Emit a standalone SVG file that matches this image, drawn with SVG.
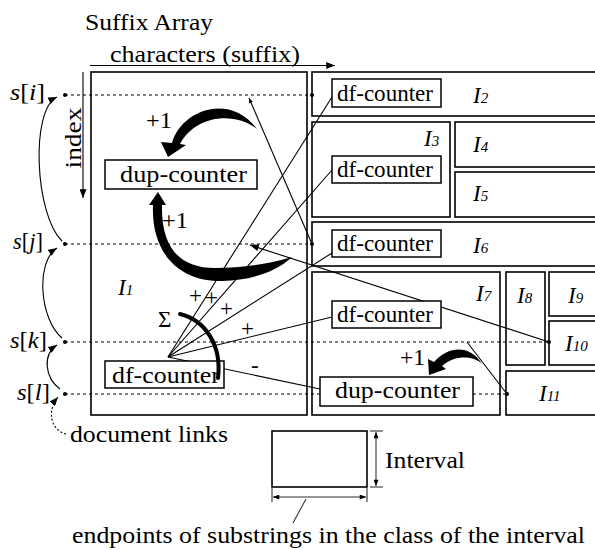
<svg xmlns="http://www.w3.org/2000/svg" width="595" height="550" viewBox="0 0 595 550" font-family="'Liberation Serif', 'Times New Roman', serif">
<defs>
<style>
.t{font-family:'Liberation Serif','Times New Roman',serif;font-size:23px;fill:#000;stroke:none}
.i{font-style:italic}
.sub{font-size:15px}
.box{fill:none;stroke:#000;stroke-width:1.6}
.cnt{fill:#fff;stroke:#000;stroke-width:1.5}
.dot{stroke:#000;stroke-width:1.2;stroke-dasharray:3 3;fill:none}
.ln{stroke:#000;stroke-width:1.1;fill:none}
.thick{fill:#000;stroke:none}
.lg{stroke:#333;stroke-width:1.1;fill:none}
</style>
<marker id="ah" viewBox="0 0 10 8" refX="10" refY="4" markerWidth="9" markerHeight="7" orient="auto" markerUnits="userSpaceOnUse"><path d="M0,0L10,4L0,8z"/></marker>
<marker id="as" viewBox="0 0 10 8" refX="10" refY="4" markerWidth="7" markerHeight="5" orient="auto-start-reverse" markerUnits="userSpaceOnUse"><path d="M0,0L10,4L0,8z"/></marker>
<marker id="at" viewBox="0 0 10 8" refX="10" refY="4" markerWidth="7" markerHeight="4" orient="auto" markerUnits="userSpaceOnUse"><path d="M0,0L10,4L0,8z"/></marker>
</defs>

<g id="titles">
<text class="t" x="85" y="30" textLength="128" lengthAdjust="spacingAndGlyphs">Suffix Array</text>
<text class="t" x="110" y="62" textLength="190" lengthAdjust="spacingAndGlyphs">characters (suffix)</text>
<text class="t" transform="translate(81,138) rotate(-90)" text-anchor="middle" textLength="61" lengthAdjust="spacingAndGlyphs">index</text>
</g>

<g id="suffix-array">
<rect class="box" x="91" y="72" width="216" height="343"/>
<text class="t i" x="118" y="295">I<tspan class="sub">1</tspan></text>
</g>

<g id="I2"><rect class="box" x="312" y="72" width="300" height="44"/><text class="t i" x="473" y="103">I<tspan class="sub">2</tspan></text></g>
<g id="I3"><rect class="box" x="312" y="122" width="138" height="95"/><text class="t i" x="424" y="146">I<tspan class="sub">3</tspan></text></g>
<g id="I4"><rect class="box" x="455" y="122" width="160" height="45"/><text class="t i" x="473" y="152">I<tspan class="sub">4</tspan></text></g>
<g id="I5"><rect class="box" x="455" y="172" width="160" height="45"/><text class="t i" x="473" y="201">I<tspan class="sub">5</tspan></text></g>
<g id="I6"><rect class="box" x="312" y="222" width="300" height="44"/><text class="t i" x="473" y="253">I<tspan class="sub">6</tspan></text></g>
<g id="I7"><rect class="box" x="312" y="272" width="188" height="143"/><text class="t i" x="476" y="301">I<tspan class="sub">7</tspan></text></g>
<g id="I8"><rect class="box" x="506" y="272" width="39" height="93"/><text class="t i" x="517" y="303">I<tspan class="sub">8</tspan></text></g>
<g id="I9"><rect class="box" x="549" y="272" width="60" height="44"/><text class="t i" x="568" y="303">I<tspan class="sub">9</tspan></text></g>
<g id="I10"><rect class="box" x="549" y="321" width="60" height="44"/><text class="t i" x="565" y="351">I<tspan class="sub">10</tspan></text></g>
<g id="I11"><rect class="box" x="506" y="371" width="100" height="44"/><text class="t i" x="539" y="401">I<tspan class="sub">11</tspan></text></g>

<g id="connectors">
<line class="ln" x1="90" y1="65.5" x2="335" y2="65.5" stroke-width="1.4" marker-end="url(#ah)"/>
<line class="ln" x1="83" y1="72" x2="83" y2="198" stroke-width="1.4" marker-end="url(#ah)"/>
<line class="dot" x1="65" y1="95" x2="312" y2="95"/>
<line class="dot" x1="65" y1="244" x2="312" y2="244"/>
<line class="dot" x1="65" y1="342" x2="549" y2="342"/>
<line class="dot" x1="65" y1="394" x2="320" y2="394"/>
<line class="dot" x1="473" y1="394" x2="507" y2="394"/>
<line class="ln" x1="168" y1="357" x2="332" y2="97"/>
<line class="ln" x1="168" y1="357" x2="332" y2="170"/>
<line class="ln" x1="168" y1="357" x2="332" y2="253"/>
<line class="ln" x1="168" y1="357" x2="332" y2="317"/>
<line class="ln" x1="168" y1="357" x2="320" y2="389"/>
<line class="ln" x1="312" y1="244" x2="249" y2="98" marker-end="url(#at)"/>
<line class="ln" x1="549" y1="342" x2="250" y2="245" marker-end="url(#ah)"/>
<line class="ln" x1="507" y1="394" x2="467" y2="342"/>
<path class="ln" d="M62,241 C35,215 30,110 57,97" marker-end="url(#ah)"/>
<path class="ln" d="M62,338 C40,320 35,262 57,248" marker-end="url(#ah)"/>
<path class="ln" d="M60,389 C45,378 42,355 57,345" marker-end="url(#ah)"/>
<path class="ln" d="M66,434 C50,430 47,410 58,397" stroke-dasharray="2 2" marker-end="url(#ah)"/>
<path class="thick" d="M257,129 C236,112 196,114 180,144 L186,145 L168,157 L161,142 L172,143 C181,110 230,92 257,129 Z"/>
<path class="thick" d="M292,257 C265,265 240,268 215,268 C180,268 161,248 162,205 L166,205 L158,192 L149,205 L153,205 C151,252 178,282 222,281 C252,280 276,272 292,257 Z"/>
<path class="thick" d="M482,364 C475,356 455,354 442,366 L446,369 L429,375 L428,359 L434,362 C448,346 470,344 482,364 Z"/>
</g>

<g id="dots" fill="#000">
<circle cx="65" cy="95" r="2"/><circle cx="65" cy="244" r="2"/><circle cx="65" cy="342" r="2"/><circle cx="65" cy="394" r="2"/>
<circle cx="312" cy="95" r="2"/><circle cx="312" cy="244" r="2"/><circle cx="549" cy="342" r="2"/><circle cx="507" cy="394" r="2"/>
</g>

<g id="labels">
<text class="t" x="10" y="100" textLength="35" lengthAdjust="spacingAndGlyphs"><tspan class="i">s</tspan>[<tspan class="i">i</tspan>]</text>
<text class="t" x="13" y="249" textLength="30" lengthAdjust="spacingAndGlyphs"><tspan class="i">s</tspan>[<tspan class="i">j</tspan>]</text>
<text class="t" x="10" y="348" textLength="37" lengthAdjust="spacingAndGlyphs"><tspan class="i">s</tspan>[<tspan class="i">k</tspan>]</text>
<text class="t" x="17" y="400" textLength="33" lengthAdjust="spacingAndGlyphs"><tspan class="i">s</tspan>[<tspan class="i">l</tspan>]</text>
<text class="t" x="146" y="128" textLength="26" lengthAdjust="spacingAndGlyphs">+1</text>
<text class="t" x="162" y="228" textLength="26" lengthAdjust="spacingAndGlyphs">+1</text>
<text class="t" x="400" y="365" textLength="25" lengthAdjust="spacingAndGlyphs">+1</text>
<text class="t" x="189" y="303">+</text>
<text class="t" x="205" y="305">+</text>
<text class="t" x="220" y="316">+</text>
<text class="t" x="241" y="336">+</text>
<text class="t" x="251" y="373">-</text>
<text class="t" x="158" y="327">Σ</text>
<text class="t" x="70" y="442" textLength="158" lengthAdjust="spacingAndGlyphs">document links</text>
</g>

<g id="dup-counter-I1"><rect class="cnt" x="105" y="160" width="152" height="29"/><text class="t" x="120" y="182" textLength="127" lengthAdjust="spacingAndGlyphs">dup-counter</text></g>
<g id="df-counter-I1"><rect class="cnt" x="105" y="361" width="119" height="27"/><text class="t" x="112" y="383" textLength="108" lengthAdjust="spacingAndGlyphs">df-counter</text></g>
<path id="sigma-arc" d="M180,314 C205,320 222,345 218,378" fill="none" stroke="#000" stroke-width="4" stroke-linecap="round"/>
<g id="df-counter-I2"><rect class="cnt" x="332" y="79" width="109" height="28"/><text class="t" x="337" y="101" textLength="96" lengthAdjust="spacingAndGlyphs">df-counter</text></g>
<g id="df-counter-I3"><rect class="cnt" x="332" y="156" width="109" height="27"/><text class="t" x="337" y="177" textLength="96" lengthAdjust="spacingAndGlyphs">df-counter</text></g>
<g id="df-counter-I6"><rect class="cnt" x="332" y="230" width="109" height="27"/><text class="t" x="337" y="251" textLength="96" lengthAdjust="spacingAndGlyphs">df-counter</text></g>
<g id="df-counter-I7"><rect class="cnt" x="332" y="301" width="109" height="27"/><text class="t" x="337" y="322" textLength="96" lengthAdjust="spacingAndGlyphs">df-counter</text></g>
<g id="dup-counter-I7"><rect class="cnt" x="320" y="377" width="153" height="29"/><text class="t" x="335" y="398" textLength="125" lengthAdjust="spacingAndGlyphs">dup-counter</text></g>

<g id="legend">
<rect class="box" x="272" y="431" width="95" height="56" stroke-width="1.4"/>
<line class="lg" x1="370" y1="431" x2="383" y2="431"/>
<line class="lg" x1="370" y1="487" x2="383" y2="487"/>
<line class="lg" x1="376" y1="432" x2="376" y2="486" marker-start="url(#as)" marker-end="url(#as)"/>
<line class="lg" x1="272" y1="488" x2="272" y2="502"/>
<line class="lg" x1="367" y1="488" x2="367" y2="502"/>
<line class="lg" x1="273" y1="497" x2="366" y2="497" marker-start="url(#as)" marker-end="url(#as)"/>
<line class="lg" x1="306" y1="499" x2="293" y2="523"/>
<text class="t" x="385" y="468" textLength="80" lengthAdjust="spacingAndGlyphs">Interval</text>
<text class="t" x="72" y="543" textLength="513" lengthAdjust="spacingAndGlyphs">endpoints of substrings in the class of the interval</text>
</g>
</svg>
